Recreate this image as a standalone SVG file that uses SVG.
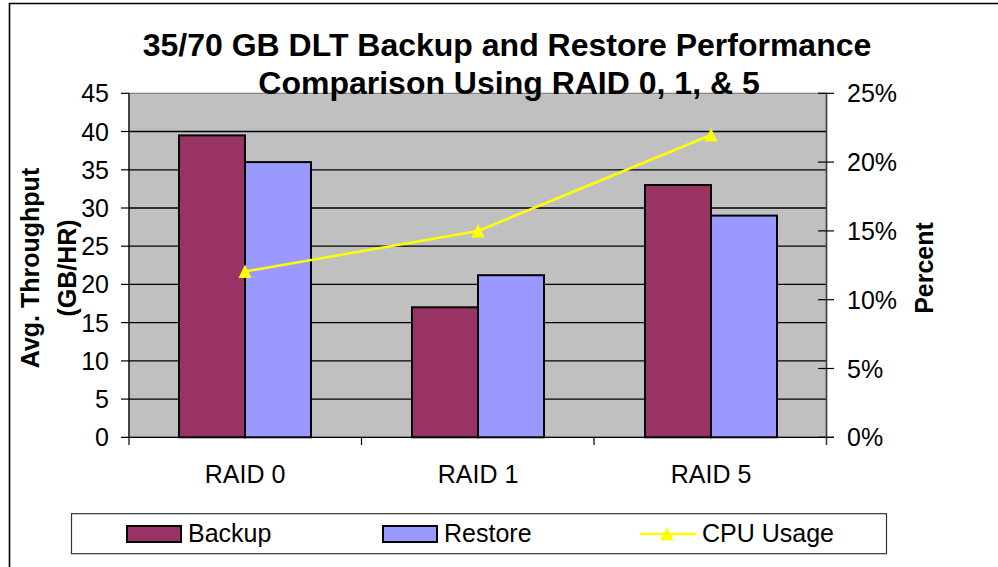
<svg xmlns="http://www.w3.org/2000/svg" width="998" height="567" viewBox="0 0 998 567">
<style>
text{font-family:"Liberation Sans",Arial,sans-serif;fill:#000}
.title{font-size:32px;font-weight:bold;text-anchor:middle}
.tick{font-size:25px}
.l{text-anchor:end}
.axt{font-size:25px;font-weight:bold;text-anchor:middle}
.cat{font-size:25px;text-anchor:middle}
.grid{stroke:#000;stroke-width:1.3}
.ax{stroke:#000;stroke-width:1.2}
.bk{fill:#993366;stroke:#000;stroke-width:2}
.rs{fill:#9999FF;stroke:#000;stroke-width:2}
.cpu{fill:none;stroke:#FFFF00;stroke-width:2.5}
.tri{fill:#FFFF00}
</style>
<defs>
<polygon id="tri" class="tri" points="0,-7 -6.5,6.5 6.5,6.5"/>
</defs>
<rect width="998" height="567" fill="#fff"/>
<path d="M9.5,567 V3.5 H998" fill="none" stroke="#000" stroke-width="1.6"/>

<g id="plot">
<rect x="129" y="93.3" width="697.5" height="344" fill="#C0C0C0" stroke="#808080" stroke-width="1.2"/>
<g class="grid">
<line x1="129" y1="131.5" x2="826.5" y2="131.5"/>
<line x1="129" y1="169.8" x2="826.5" y2="169.8"/>
<line x1="129" y1="208" x2="826.5" y2="208"/>
<line x1="129" y1="246.2" x2="826.5" y2="246.2"/>
<line x1="129" y1="284.4" x2="826.5" y2="284.4"/>
<line x1="129" y1="322.6" x2="826.5" y2="322.6"/>
<line x1="129" y1="360.9" x2="826.5" y2="360.9"/>
<line x1="129" y1="399.1" x2="826.5" y2="399.1"/>
</g>
</g>

<g id="left-axis">
<g class="ax">
<line x1="129" y1="93.3" x2="129" y2="445"/>
<line x1="121" y1="93.3" x2="129" y2="93.3"/>
<line x1="121" y1="131.5" x2="129" y2="131.5"/>
<line x1="121" y1="169.8" x2="129" y2="169.8"/>
<line x1="121" y1="208" x2="129" y2="208"/>
<line x1="121" y1="246.2" x2="129" y2="246.2"/>
<line x1="121" y1="284.4" x2="129" y2="284.4"/>
<line x1="121" y1="322.6" x2="129" y2="322.6"/>
<line x1="121" y1="360.9" x2="129" y2="360.9"/>
<line x1="121" y1="399.1" x2="129" y2="399.1"/>
</g>
<g class="tick l">
<text x="109" y="102.3">45</text>
<text x="109" y="140.5">40</text>
<text x="109" y="178.8">35</text>
<text x="109" y="217">30</text>
<text x="109" y="255.2">25</text>
<text x="109" y="293.4">20</text>
<text x="109" y="331.6">15</text>
<text x="109" y="369.9">10</text>
<text x="109" y="408.1">5</text>
<text x="109" y="446.3">0</text>
</g>
<text class="axt" transform="translate(39,268) rotate(-90)">Avg. Throughput</text>
<text class="axt" transform="translate(76,268) rotate(-90)">(GB/HR)</text>
</g>

<g id="x-axis">
<g class="ax">
<line x1="121" y1="437.3" x2="834" y2="437.3"/>
<line x1="361.5" y1="437.3" x2="361.5" y2="445"/>
<line x1="594" y1="437.3" x2="594" y2="445"/>
</g>
<text class="cat" x="245" y="483">RAID 0</text>
<text class="cat" x="478" y="483">RAID 1</text>
<text class="cat" x="711" y="483">RAID 5</text>
</g>

<g id="right-axis">
<line x1="826.5" y1="93.3" x2="826.5" y2="445" stroke="#404040" stroke-width="1.6"/>
<g class="ax">
<line x1="818" y1="93.3" x2="834" y2="93.3"/>
<line x1="818" y1="162.1" x2="834" y2="162.1"/>
<line x1="818" y1="230.9" x2="834" y2="230.9"/>
<line x1="818" y1="299.7" x2="834" y2="299.7"/>
<line x1="818" y1="368.5" x2="834" y2="368.5"/>
<line x1="818" y1="437.3" x2="834" y2="437.3"/>
</g>
<g class="tick">
<text x="847" y="102.3">25%</text>
<text x="847" y="171.1">20%</text>
<text x="847" y="239.9">15%</text>
<text x="847" y="308.7">10%</text>
<text x="847" y="377.5">5%</text>
<text x="847" y="446.3">0%</text>
</g>
<text class="axt" transform="translate(933,268) rotate(-90)">Percent</text>
</g>

<g id="bars-backup">
<rect class="bk" x="179" y="135.4" width="66" height="301.9"/>
<rect class="bk" x="412" y="307.3" width="66" height="130"/>
<rect class="bk" x="645" y="185" width="66" height="252.3"/>
</g>
<g id="bars-restore">
<rect class="rs" x="245" y="162.1" width="66" height="275.2"/>
<rect class="rs" x="478" y="275.2" width="66" height="162.1"/>
<rect class="rs" x="711" y="215.6" width="66" height="221.7"/>
</g>

<g id="cpu-usage">
<polyline class="cpu" points="245,271.5 478,231 711,135"/>
<use href="#tri" x="245" y="271.5"/>
<use href="#tri" x="478" y="231"/>
<use href="#tri" x="711" y="135"/>
</g>

<g id="title">
<text class="title" x="507" y="56">35/70 GB DLT Backup and Restore Performance</text>
<text class="title" x="509" y="94">Comparison Using RAID 0, 1, &amp; 5</text>
</g>

<g id="legend">
<rect x="71.5" y="513.7" width="815" height="40" fill="#fff" stroke="#333" stroke-width="1.2"/>
<rect class="bk" x="127" y="526" width="54" height="16" stroke-width="1.5"/>
<text class="tick" x="188" y="542">Backup</text>
<rect class="rs" x="383" y="526" width="54" height="16" stroke-width="1.5"/>
<text class="tick" x="444" y="542">Restore</text>
<line x1="640" y1="534" x2="696" y2="534" stroke="#FFFF00" stroke-width="2.5"/>
<use href="#tri" x="667" y="534"/>
<text class="tick" x="702" y="542">CPU Usage</text>
</g>
</svg>
